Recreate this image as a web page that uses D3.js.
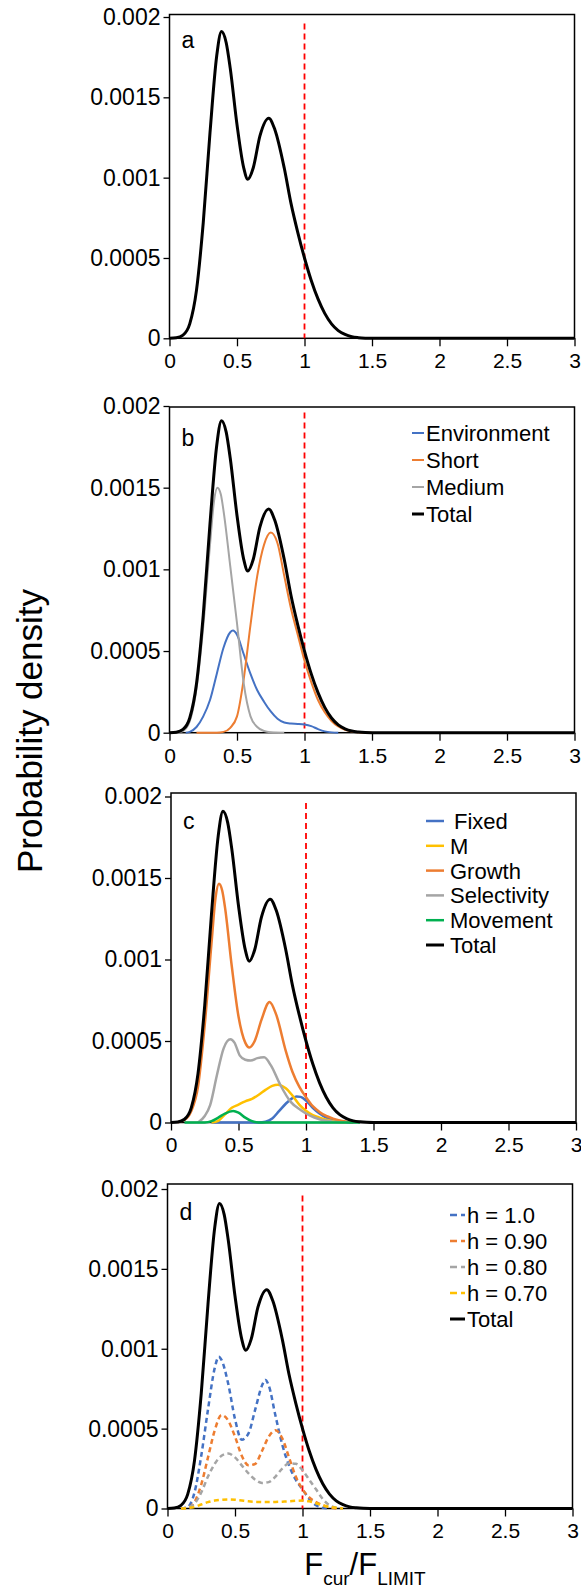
<!DOCTYPE html>
<html>
<head>
<meta charset="utf-8">
<style>
  body { margin: 0; background: #fff; }
  svg { display: block; font-family: Arial, 'Liberation Sans', sans-serif; }
  .tick line { stroke: #000; stroke-width: 1.3; }
  .tick text { fill: #000; }
</style>
</head>
<body>
<svg width="581" height="1592"></svg>
<script src="https://d3js.org/d3.v7.min.js"></script>
<script>
// densities are stored in units of 0.001, x is Fcur/Flimit
const UNIT = 0.001;

const total = [[0,0],[0.05,0.003],[0.1,0.02],[0.15,0.09],[0.2,0.3],[0.25,0.72],[0.3,1.28],[0.35,1.76],[0.385,1.91],[0.42,1.84],[0.45,1.68],[0.5,1.33],[0.55,1.06],[0.58,0.99],[0.62,1.06],[0.67,1.26],[0.735,1.37],[0.78,1.3],[0.85,1.06],[0.9,0.84],[0.95,0.66],[1.0,0.5],[1.05,0.36],[1.1,0.245],[1.15,0.155],[1.2,0.09],[1.25,0.048],[1.3,0.024],[1.35,0.01],[1.4,0.004],[1.45,0.001],[1.5,0],[3,0]];

// panel b
const environment = [[0.12,0],[0.15,0.005],[0.2,0.035],[0.25,0.1],[0.3,0.2],[0.35,0.36],[0.4,0.52],[0.45,0.615],[0.47,0.625],[0.5,0.6],[0.55,0.48],[0.6,0.36],[0.65,0.26],[0.7,0.19],[0.75,0.13],[0.8,0.085],[0.85,0.062],[0.9,0.056],[0.95,0.054],[1.0,0.05],[1.05,0.04],[1.1,0.022],[1.15,0.008],[1.2,0.002],[1.25,0]];
const short = [[0.2,0],[0.35,0],[0.4,0.005],[0.45,0.03],[0.5,0.1],[0.55,0.33],[0.6,0.66],[0.65,0.96],[0.7,1.15],[0.75,1.225],[0.8,1.16],[0.85,0.96],[0.9,0.76],[0.95,0.6],[1.0,0.44],[1.05,0.31],[1.1,0.2],[1.15,0.125],[1.2,0.072],[1.25,0.038],[1.3,0.018],[1.35,0.008],[1.4,0.003],[1.5,0]];
const medium = [[0.05,0],[0.1,0.01],[0.15,0.07],[0.2,0.27],[0.25,0.65],[0.3,1.15],[0.33,1.42],[0.355,1.5],[0.38,1.46],[0.4,1.36],[0.45,1.02],[0.5,0.67],[0.55,0.3],[0.6,0.1],[0.65,0.035],[0.7,0.01],[0.75,0.003],[0.85,0]];

// panel c
const fixed = [[0.3,0],[0.65,0],[0.7,0.005],[0.75,0.025],[0.8,0.07],[0.85,0.115],[0.9,0.15],[0.93,0.16],[0.96,0.157],[1.0,0.135],[1.05,0.09],[1.1,0.055],[1.15,0.03],[1.2,0.015],[1.25,0.006],[1.3,0.002],[1.35,0]];
const mortality = [[0.3,0],[0.35,0.01],[0.4,0.05],[0.45,0.09],[0.5,0.11],[0.55,0.13],[0.6,0.145],[0.65,0.17],[0.7,0.2],[0.75,0.225],[0.79,0.232],[0.85,0.21],[0.9,0.165],[0.95,0.11],[1.0,0.072],[1.05,0.045],[1.1,0.03],[1.15,0.017],[1.2,0.008],[1.25,0.003],[1.3,0]];
const growth = [[0.05,0.002],[0.1,0.015],[0.15,0.07],[0.2,0.22],[0.25,0.6],[0.3,1.1],[0.33,1.38],[0.355,1.465],[0.38,1.42],[0.4,1.32],[0.45,0.96],[0.5,0.65],[0.55,0.49],[0.58,0.46],[0.62,0.5],[0.67,0.63],[0.73,0.74],[0.78,0.66],[0.85,0.44],[0.9,0.31],[0.95,0.22],[1.0,0.155],[1.05,0.1],[1.1,0.065],[1.15,0.04],[1.2,0.024],[1.25,0.012],[1.3,0.005],[1.35,0]];
const selectivity = [[0.2,0],[0.25,0.04],[0.29,0.107],[0.34,0.29],[0.39,0.455],[0.44,0.51],[0.47,0.49],[0.51,0.41],[0.55,0.385],[0.59,0.38],[0.64,0.395],[0.69,0.4],[0.74,0.35],[0.81,0.23],[0.885,0.128],[0.96,0.077],[1.03,0.042],[1.1,0.02],[1.2,0.005],[1.3,0]];
const movement = [[0.1,0],[0.25,0],[0.3,0.008],[0.35,0.03],[0.4,0.055],[0.46,0.07],[0.5,0.06],[0.55,0.03],[0.6,0.008],[0.65,0],[1.4,0]];

// panel d
const h10 = [[0.1,0],[0.15,0.01],[0.2,0.1],[0.25,0.33],[0.3,0.62],[0.35,0.88],[0.38,0.95],[0.4,0.93],[0.45,0.78],[0.5,0.56],[0.55,0.43],[0.6,0.47],[0.65,0.62],[0.7,0.77],[0.725,0.805],[0.75,0.77],[0.8,0.58],[0.85,0.4],[0.9,0.27],[0.95,0.18],[1.0,0.12],[1.05,0.06],[1.1,0.02],[1.15,0.004],[1.2,0]];
const h09 = [[0.1,0],[0.15,0.005],[0.2,0.04],[0.25,0.15],[0.3,0.32],[0.35,0.49],[0.4,0.585],[0.45,0.55],[0.5,0.45],[0.55,0.33],[0.6,0.27],[0.65,0.28],[0.7,0.36],[0.75,0.45],[0.8,0.49],[0.85,0.44],[0.9,0.32],[0.95,0.2],[1.0,0.12],[1.05,0.07],[1.1,0.04],[1.15,0.02],[1.2,0.008],[1.25,0]];
const h08 = [[0.1,0],[0.15,0.005],[0.2,0.03],[0.25,0.1],[0.3,0.2],[0.35,0.28],[0.4,0.33],[0.45,0.345],[0.5,0.32],[0.55,0.27],[0.6,0.22],[0.65,0.18],[0.7,0.16],[0.75,0.165],[0.8,0.2],[0.85,0.25],[0.9,0.283],[0.95,0.28],[1.0,0.24],[1.05,0.18],[1.1,0.12],[1.15,0.06],[1.2,0.02],[1.25,0.005],[1.3,0]];
const h07 = [[0.1,0],[0.15,0.003],[0.2,0.01],[0.25,0.025],[0.3,0.04],[0.35,0.05],[0.4,0.055],[0.45,0.057],[0.5,0.055],[0.55,0.05],[0.6,0.045],[0.65,0.042],[0.7,0.04],[0.75,0.04],[0.8,0.041],[0.85,0.043],[0.9,0.045],[0.95,0.048],[1.0,0.05],[1.05,0.045],[1.1,0.033],[1.15,0.02],[1.2,0.01],[1.25,0.004],[1.3,0]];

const xTicks = [0, 0.5, 1, 1.5, 2, 2.5, 3];
const xTickLabels = ["0", "0.5", "1", "1.5", "2", "2.5", "3"];
const yTicks = [0, 0.0005, 0.001, 0.0015, 0.002];
const yTickLabels = ["0", "0.0005", "0.001", "0.0015", "0.002"];
const limitRatio = 1;

const BLUE = "#4472C4", ORANGE = "#ED7D31", GRAY = "#A5A5A5", YELLOW = "#FFC000", GREEN = "#00B050";

const panels = [
  { letter: "a", left: 169.5, top: 14.5, bottom: 338.3, yTop: 17, letterY: 48,
    series: [{ name: "Total", data: total, color: "#000", w: 3 }],
    legend: null },
  { letter: "b", left: 169.5, top: 407, bottom: 732.7, yTop: 406, letterY: 446,
    series: [
      { name: "Environment", data: environment, color: BLUE, w: 2 },
      { name: "Short", data: short, color: ORANGE, w: 2 },
      { name: "Medium", data: medium, color: GRAY, w: 2 },
      { name: "Total", data: total, color: "#000", w: 3 }],
    legend: { x1: 412, x2: 424, tx: 426, y: 441, dy: 27 } },
  { letter: "c", left: 171, top: 793, bottom: 1122.5, yTop: 796.5, letterY: 828.5,
    series: [
      { name: "Fixed", data: fixed, color: BLUE, w: 2.5, dx: 4 },
      { name: "M", data: mortality, color: YELLOW, w: 2.5 },
      { name: "Growth", data: growth, color: ORANGE, w: 2.5 },
      { name: "Selectivity", data: selectivity, color: GRAY, w: 2.5 },
      { name: "Movement", data: movement, color: GREEN, w: 2.5 },
      { name: "Total", data: total, color: "#000", w: 3 }],
    legend: { x1: 426, x2: 444, tx: 450, y: 829, dy: 24.8 } },
  { letter: "d", left: 167.5, top: 1184, bottom: 1508.5, yTop: 1189, letterY: 1220,
    series: [
      { name: "h = 1.0", data: h10, color: BLUE, w: 2.5, dash: "5,3.5" },
      { name: "h = 0.90", data: h09, color: ORANGE, w: 2.5, dash: "5,3.5" },
      { name: "h = 0.80", data: h08, color: GRAY, w: 2.5, dash: "5,3.5" },
      { name: "h = 0.70", data: h07, color: YELLOW, w: 2.5, dash: "5,3.5" },
      { name: "Total", data: total, color: "#000", w: 3 }],
    legend: { x1: 450, x2: 465, tx: 467, y: 1223, dy: 26 } }
];

const plotW = 405;
const svg = d3.select("svg");

panels.forEach(p => {
  const x = d3.scaleLinear().domain([0, 3]).range([p.left, p.left + plotW]);
  const y = d3.scaleLinear().domain([0, 0.002]).range([p.bottom, p.yTop]);
  const g = svg.append("g");

  // axes
  const xAxis = d3.axisBottom(x).tickValues(xTicks)
    .tickFormat((d, i) => xTickLabels[i]).tickSize(8).tickPadding(7);
  g.append("g").attr("transform", `translate(0,${p.bottom})`).call(xAxis)
    .call(a => a.select(".domain").remove())
    .selectAll("text").attr("font-size", 21).attr("font-family", null);

  const yAxis = d3.axisLeft(y).tickValues(yTicks)
    .tickFormat((d, i) => yTickLabels[i]).tickSize(6).tickPadding(3);
  g.append("g").attr("transform", `translate(${p.left},0)`).call(yAxis)
    .call(a => a.select(".domain").remove())
    .selectAll("text").attr("font-size", 23).attr("font-family", null);

  // frame
  g.append("rect")
    .attr("x", p.left).attr("y", p.top)
    .attr("width", plotW).attr("height", p.bottom - p.top)
    .attr("fill", "none").attr("stroke", "#000").attr("stroke-width", 1.5);

  // limit line
  g.append("line")
    .attr("x1", x(limitRatio)).attr("x2", x(limitRatio))
    .attr("y1", y(0.00196)).attr("y2", p.bottom)
    .attr("stroke", "#FF0000").attr("stroke-width", 1.8)
    .attr("stroke-dasharray", "6,4");

  // density curves
  const line = d3.line()
    .x(d => x(d[0]))
    .y(d => y(d[1] * UNIT))
    .curve(d3.curveMonotoneX);

  g.selectAll(".curve")
    .data(p.series)
    .join("path")
    .attr("class", "curve")
    .attr("d", d => line(d.data))
    .attr("fill", "none")
    .attr("stroke", d => d.color)
    .attr("stroke-width", d => d.w)
    .attr("stroke-dasharray", d => d.dash || null)
    .attr("stroke-linejoin", "round");

  // panel letter
  g.append("text")
    .attr("x", p.left + 12).attr("y", p.letterY)
    .attr("font-size", 23).text(p.letter);

  // legend
  if (p.legend) {
    const L = p.legend;
    const items = g.selectAll(".leg")
      .data(p.series)
      .join("g")
      .attr("class", "leg")
      .attr("transform", (d, i) => `translate(0,${L.y + i * L.dy})`);
    items.append("line")
      .attr("x1", L.x1).attr("x2", L.x2)
      .attr("y1", -8).attr("y2", -8)
      .attr("stroke", d => d.color)
      .attr("stroke-width", d => d.w)
      .attr("stroke-dasharray", d => d.dash ? "7,4" : null);
    items.append("text")
      .attr("x", d => L.tx + (d.dx || 0))
      .attr("font-size", 22)
      .text(d => d.name);
  }
});

// axis titles
svg.append("text")
  .attr("transform", "translate(42,731) rotate(-90)")
  .attr("text-anchor", "middle")
  .attr("font-size", 35)
  .text("Probability density");

const xt = svg.append("text")
  .attr("x", 365).attr("y", 1575)
  .attr("text-anchor", "middle")
  .attr("font-size", 31);
xt.append("tspan").text("F");
xt.append("tspan").attr("font-size", 19).attr("dy", 10).text("cur");
xt.append("tspan").attr("dy", -10).text("/F");
xt.append("tspan").attr("font-size", 19).attr("dy", 10).text("LIMIT");
</script>
</body>
</html>
